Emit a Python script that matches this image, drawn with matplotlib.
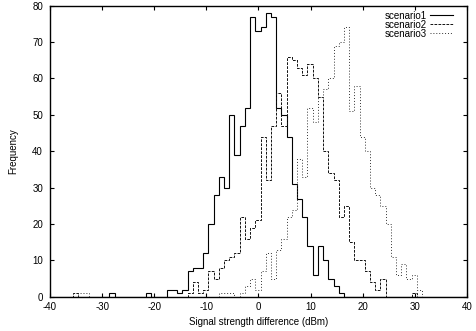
import numpy as np
import matplotlib
matplotlib.use("Agg")
import matplotlib.pyplot as plt
from matplotlib.lines import Line2D

plt.rcParams['font.family'] = ['Liberation Sans', 'DejaVu Sans']
plt.rcParams['axes.unicode_minus'] = False

# histogram bins (1 dBm wide) and counts
s1_bins = [-28, -21, -17, -16, -15, -14, -13, -12, -11, -10, -9, -8, -7, -6, -5, -4, -3, -2, -1,
           0, 1, 2, 3, 4, 5, 6, 7, 8, 9, 10, 11, 12, 13, 14, 15, 16]
s1_counts = [1, 1, 2, 2, 1, 2, 7, 8, 8, 12, 20, 28, 33, 30, 50, 39, 47, 52, 77,
             73, 74, 78, 77, 52, 50, 44, 31, 27, 22, 14, 6, 14, 10, 5, 3, 1]

s2_bins = [-35, -13, -12, -11, -10, -9, -8, -7, -6, -5, -4, -3, -2, -1, 0, 1, 2, 3, 4, 5, 6,
           7, 8, 9, 10, 11, 12, 13, 14, 15, 16, 17, 18, 19, 20, 21, 22, 23, 24, 30]
s2_counts = [1, 1, 4, 1, 2, 7, 5, 8, 10, 11, 12, 22, 16, 19, 21, 44, 32, 47, 56, 47, 66,
             65, 63, 61, 64, 60, 55, 40, 34, 32, 22, 25, 15, 10, 10, 7, 4, 2, 5, 1]

s3_bins = [-34, -33, -7, -6, -5, -3, -2, -1, 0, 1, 2, 3, 4, 5, 6, 7, 8, 9, 10, 11, 12, 13,
           14, 15, 16, 17, 18, 19, 20, 21, 22, 23, 24, 25, 26, 27, 28, 29, 30, 31]
s3_counts = [1, 1, 1, 1, 1, 1, 3, 5, 2, 7, 12, 5, 13, 16, 22, 24, 38, 33, 52, 48, 55, 57,
             60, 69, 70, 74, 51, 58, 44, 40, 30, 28, 25, 20, 11, 6, 9, 5, 6, 2]

labels = ['scenario1', 'scenario2', 'scenario3']

centers = np.arange(-39, 41)
edges = np.append(centers - 0.6, centers[-1] + 0.4)


def full_counts(bins, counts):
    out = np.zeros(len(centers))
    out[np.array(bins) - centers[0]] = counts
    return out


fig = plt.figure(figsize=(4.76, 3.31), dpi=100)
ax = fig.add_axes([0.105, 0.103, 0.876, 0.880])

styles = [dict(color='black', linestyle='-', lw=0.8),
          dict(color='#111111', linestyle=(0, (2.8, 1.3)), lw=0.7),
          dict(color='#333333', linestyle=(0, (1, 2)), lw=0.7)]
series = [(s1_bins, s1_counts), (s2_bins, s2_counts), (s3_bins, s3_counts)]

for (b, c), lab, st in zip(series, labels, styles):
    ax.stairs(full_counts(b, c), edges, baseline=0, label=lab, **st)

ax.set_xlim(-40, 40)
ax.set_ylim(0, 80)
ax.set_xticks(np.arange(-40, 41, 10))
ax.set_yticks(np.arange(0, 81, 10))
ax.tick_params(direction='in', top=True, right=True, length=3, width=0.8,
               labelsize=7)
ax.tick_params(axis='x', pad=4)
ax.tick_params(axis='y', pad=5)
for sp in ax.spines.values():
    sp.set_linewidth(1.0)

ax.set_xlabel('Signal strength difference (dBm)', fontsize=7, labelpad=3)
ax.set_ylabel('Frequency', fontsize=7, labelpad=10)

handles = [Line2D([], [], **st) for st in styles]
ax.legend(handles, labels, loc='upper right', bbox_to_anchor=(0.974, 0.993),
          frameon=False, fontsize=7, markerfirst=False, handlelength=2.4,
          labelspacing=-0.1, handletextpad=0.3, borderaxespad=0, borderpad=0.3)

fig.savefig('out.png', dpi=100)
